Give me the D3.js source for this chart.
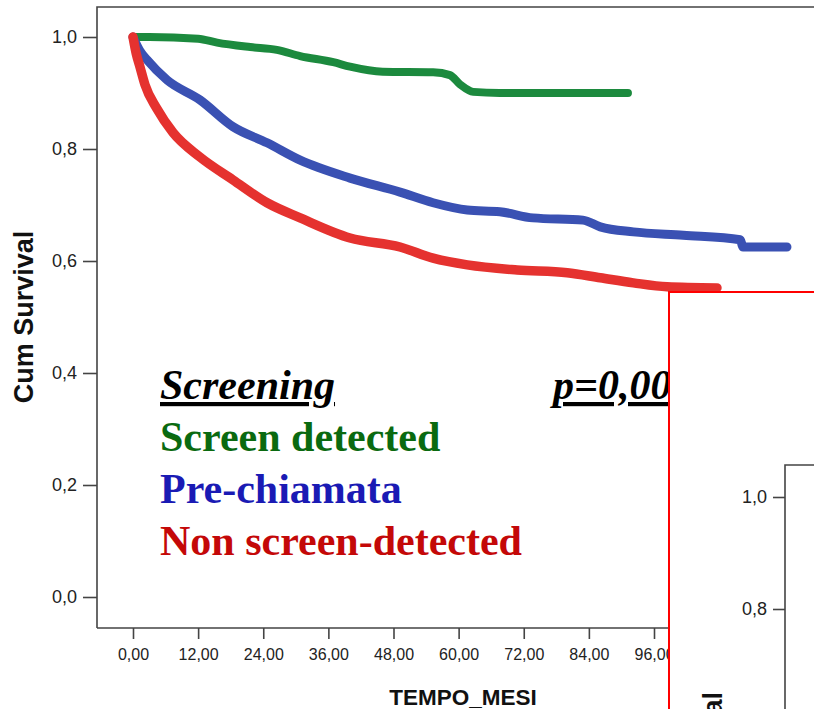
<!DOCTYPE html>
<html>
<head>
<meta charset="utf-8">
<script src="https://cdn.jsdelivr.net/npm/d3@7"></script>
<style>
  html, body { margin: 0; padding: 0; background: #fff; }
  svg { display: block; }
</style>
</head>
<body>
<svg id="chart" width="814" height="709"></svg>
<script>
// Kaplan-Meier survival by screening category (months, cumulative survival)
const screenDetected = [
  [0, 1.0], [3, 1.0], [12, 0.997], [15.5, 0.99], [21.6, 0.982], [26.5, 0.977],
  [30.8, 0.966], [36.9, 0.955], [40, 0.947], [46, 0.938], [55.3, 0.937],
  [58.4, 0.932], [60.3, 0.915], [62.7, 0.902], [67.6, 0.9], [91.2, 0.9]
];
const preChiamata = [
  [0, 1.0], [1.3, 0.975], [2.6, 0.959], [6.3, 0.923], [12.3, 0.888],
  [18.4, 0.84], [24.7, 0.811], [30.8, 0.78], [40, 0.748], [49.2, 0.723],
  [55.3, 0.704], [61.6, 0.691], [67.6, 0.688], [73.7, 0.677], [82.9, 0.673],
  [86.1, 0.661], [92.2, 0.652], [101.4, 0.646], [111.9, 0.638],
  [112.4, 0.625], [120.5, 0.625]
];
const nonScreenDetected = [
  [0, 1.0], [0.6, 0.97], [1.3, 0.946], [2.2, 0.915], [4.4, 0.872], [7.4, 0.829],
  [12.3, 0.786], [18.4, 0.745], [24.7, 0.704], [30.8, 0.677], [40, 0.641],
  [49.2, 0.625], [55.3, 0.605], [61.6, 0.593], [70.8, 0.584], [80, 0.579],
  [86.1, 0.57], [92.2, 0.561], [98.4, 0.554], [107.6, 0.552]
];

const xTicks = [0, 12, 24, 36, 48, 60, 72, 84, 96];
const yTicks = [0, 0.2, 0.4, 0.6, 0.8, 1.0];
const innerYTicks = [0.8, 1.0];

const legendTitle = "Screening";
const pValueText = "p=0,0001";
const groupNames = ["Screen detected", "Pre-chiamata", "Non screen-detected"];
const xTitle = "TEMPO_MESI";
const yTitle = "Cum Survival";

const svg = d3.select("#chart");
const sans = "'Liberation Sans', Arial, sans-serif";
const serif = "'Liberation Serif', 'Times New Roman', serif";
const axisColor = "#444";

const x = d3.scaleLinear().domain([0, 96]).range([133, 654]);
const y = d3.scaleLinear().domain([0, 1]).range([597, 37]);

const frameLeft = 97, frameTop = 7, frameBottom = 628;

// plot frame (continues past the right edge)
svg.append("path")
  .attr("d", `M${frameLeft},${frameBottom} V${frameTop} H830 M${frameLeft},${frameBottom} H830`)
  .attr("fill", "none").attr("stroke", axisColor).attr("stroke-width", 1.6);

const commaFmt = (f) => (v) => d3.format(f)(v).replace(".", ",");

// x axis
const gx = svg.append("g").attr("transform", `translate(0,${frameBottom})`)
  .call(d3.axisBottom(x).tickValues(xTicks).tickSize(11).tickSizeOuter(0).tickFormat(commaFmt(".2f")));
gx.select(".domain").remove();
gx.selectAll(".tick line").attr("stroke", axisColor).attr("stroke-width", 1.6);
gx.selectAll(".tick text").attr("font-family", sans).attr("font-size", 16)
  .attr("fill", "#222").attr("y", 32).attr("dy", 0);

// y axis
const gy = svg.append("g").attr("transform", `translate(${frameLeft},0)`)
  .call(d3.axisLeft(y).tickValues(yTicks).tickSize(14).tickSizeOuter(0).tickPadding(6).tickFormat(commaFmt(".1f")));
gy.select(".domain").remove();
gy.selectAll(".tick line").attr("stroke", axisColor).attr("stroke-width", 1.6);
gy.selectAll(".tick text").attr("font-family", sans).attr("font-size", 18).attr("fill", "#222");

// axis titles
svg.append("text").attr("x", 463).attr("y", 705).attr("text-anchor", "middle")
  .attr("font-family", sans).attr("font-weight", "bold").attr("font-size", 22.5)
  .attr("fill", "#111").text(xTitle);
svg.append("text").attr("transform", "translate(33,317) rotate(-90)").attr("text-anchor", "middle")
  .attr("font-family", sans).attr("font-weight", "bold").attr("font-size", 27)
  .attr("fill", "#111").text(yTitle);

// survival curves
const line = d3.line().x(d => x(d[0])).y(d => y(d[1])).curve(d3.curveMonotoneX);
const curves = [
  { data: screenDetected, color: "#1c8a3e", width: 8 },
  { data: preChiamata, color: "#3a51b3", width: 9 },
  { data: nonScreenDetected, color: "#e5322f", width: 9.5 }
];
svg.append("g").selectAll("path").data(curves).join("path")
  .attr("d", d => line(d.data))
  .attr("fill", "none")
  .attr("stroke", d => d.color)
  .attr("stroke-width", d => d.width)
  .attr("stroke-linejoin", "round")
  .attr("stroke-linecap", "round");

// legend block
const legendColors = ["#0a6a10", "#1a1ab4", "#c40808"];
svg.append("text").attr("x", 160).attr("y", 399)
  .attr("font-family", serif).attr("font-weight", "bold").attr("font-style", "italic")
  .attr("font-size", 42).attr("text-decoration", "underline").attr("fill", "#000")
  .text(legendTitle);
svg.append("text").attr("x", 553).attr("y", 399)
  .attr("font-family", serif).attr("font-weight", "bold").attr("font-style", "italic")
  .attr("font-size", 42).attr("text-decoration", "underline").attr("fill", "#000")
  .text(pValueText);
svg.append("g").selectAll("text").data(groupNames).join("text")
  .attr("x", 160).attr("y", (d, i) => 451 + i * 52)
  .attr("font-family", serif).attr("font-weight", "bold").attr("font-size", 42)
  .attr("fill", (d, i) => legendColors[i])
  .text(d => d);

// inset panel with a second survival plot, partly visible
const inset = svg.append("g");
inset.append("rect").attr("x", 669).attr("y", 292).attr("width", 200).attr("height", 500)
  .attr("fill", "#fff").attr("stroke", "#ff0000").attr("stroke-width", 2);

const yInner = d3.scaleLinear().domain([0.8, 1.0]).range([609, 497]);
inset.append("path").attr("d", "M785,720 V465 H830")
  .attr("fill", "none").attr("stroke", axisColor).attr("stroke-width", 1.6);
const giy = inset.append("g").attr("transform", "translate(785,0)")
  .call(d3.axisLeft(yInner).tickValues(innerYTicks).tickSize(12).tickSizeOuter(0).tickPadding(6).tickFormat(commaFmt(".1f")));
giy.select(".domain").remove();
giy.selectAll(".tick line").attr("stroke", axisColor).attr("stroke-width", 1.6);
giy.selectAll(".tick text").attr("font-family", sans).attr("font-size", 18).attr("fill", "#222");
inset.append("text").attr("transform", "translate(722,692) rotate(-90)").attr("text-anchor", "end")
  .attr("font-family", sans).attr("font-weight", "bold").attr("font-size", 27)
  .attr("fill", "#111").text(yTitle);
</script>
</body>
</html>
